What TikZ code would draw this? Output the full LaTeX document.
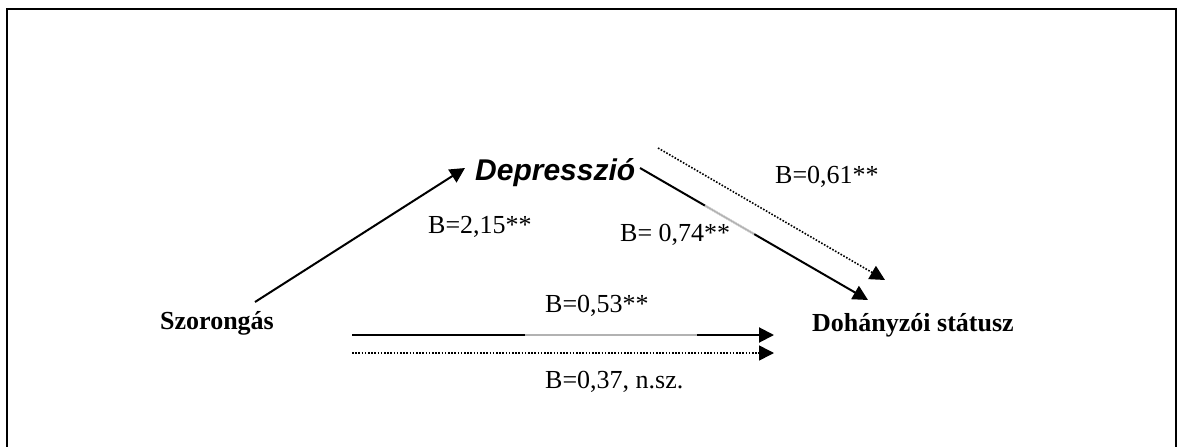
\documentclass[tikz,border=0pt]{standalone}
\usepackage{fontspec}
\setmainfont{Liberation Serif}
\newfontfamily\arialfont{Liberation Sans}
\usetikzlibrary{arrows.meta,calc}
\tikzset{
  lbl/.style={anchor=base west, inner sep=0pt, font=\fontsize{26}{30}\selectfont},
  boldlbl/.style={lbl, font=\fontsize{26}{30}\selectfont\bfseries},
  solidarrow/.style={line width=2pt, -{Triangle[length=15pt,width=15pt]}},
  dotarrow/.style={line width=1.6pt, dash pattern=on 1.6pt off 1.6pt, -{Triangle[length=15pt,width=15pt]}},
  fadeseg/.style={line width=1.6pt, gray!60},
}
\begin{document}
\begin{tikzpicture}[x=1pt,y=-1pt]
\useasboundingbox (0,0) rectangle (1178,447);
\fill[white] (0,0) rectangle (1178,447);
% frame
\draw[line width=2pt] (7,470) -- (7,9) -- (1176,9) -- (1176,470);

% nodes
\node[boldlbl] (sz) at (160,329) {Szorongás};
\node[boldlbl] (doh) at (812,331) {Dohányzói státusz};
\node[lbl, font=\fontsize{30}{34}\selectfont\arialfont\bfseries\itshape] (dep) at (475,180) {Depresszió};
\node[lbl] (b215) at (428,233) {B=2,15**};
\node[lbl] (b074) at (620,241) {B= 0,74**};
\node[lbl] (b061) at (775,183) {B=0,61**};
\node[lbl] (b053) at (545,312) {B=0,53**};
\node[lbl] (b037) at (545,388) {B=0,37, n.sz.};

% connector ends
\coordinate (a1s) at (255,302);
\coordinate (a1e) at (465,168);
\coordinate (a2s) at (640,168);
\coordinate (a2e) at (868,300);
\coordinate (a3s) at (658,148);
\coordinate (a3e) at (885,280);
\coordinate (h1s) at (352,335);
\coordinate (h1e) at (774,335);
\coordinate (h2s) at (352,353);
\coordinate (h2e) at (774,353);

% connectors
\draw[solidarrow] (a1s) -- (a1e);
\draw[solidarrow] (a2s) -- (a2e);
\draw[dotarrow] (a3s) -- (a3e);
\draw[solidarrow] (h1s) -- (h1e);
\draw[dotarrow] (h2s) -- (h2e);

% lighter segments
\draw[white, line width=2.4pt] ($(a2s)!0.285!(a2e)$) -- ($(a2s)!0.5!(a2e)$);
\draw[fadeseg] ($(a2s)!0.285!(a2e)$) -- ($(a2s)!0.5!(a2e)$);
\draw[white, line width=2.4pt] (525,335) -- (697,335);
\draw[fadeseg] (525,335) -- (697,335);
\end{tikzpicture}
\end{document}
